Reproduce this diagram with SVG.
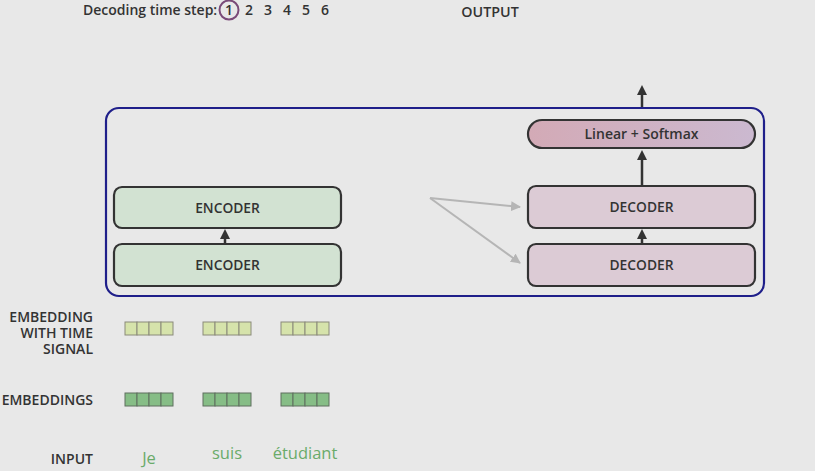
<svg xmlns="http://www.w3.org/2000/svg" width="815" height="471" viewBox="0 0 815 471">
<defs>
<style>
.t{font-family:"Open Sans","Liberation Sans",sans-serif;fill:#333;font-weight:600}
.lbl{font-size:14px;text-anchor:end}
.box{font-size:13.8px;text-anchor:middle}
.enc{fill:#d2e2d2;stroke:#333;stroke-width:2.2}
.dec{fill:#dccbd5;stroke:#333;stroke-width:2.2}
.ts{fill:#d6e3ab;stroke:#8a8a7a;stroke-width:1}
.em{fill:#86bd86;stroke:#5f6f5f;stroke-width:1}
.word{font-family:"Open Sans","Liberation Sans",sans-serif;font-size:16.5px;fill:#6aab6a;text-anchor:middle}
.dk{stroke:#333;stroke-width:2.5;fill:none}
.gr{stroke:#b5b5b5;stroke-width:2;fill:none}
</style>
<marker id="ah" viewBox="0 0 10 10" refX="5" refY="5" markerWidth="4" markerHeight="4" orient="auto"><path d="M0,0 L10,5 L0,10 z" fill="#333"/></marker>
<marker id="ag" viewBox="0 0 10 10" refX="9" refY="5" markerWidth="5" markerHeight="5" orient="auto"><path d="M0,0 L10,5 L0,10 z" fill="#b5b5b5"/></marker>
<linearGradient id="lg" x1="0" x2="1" y1="0" y2="0"><stop offset="0" stop-color="#d3aab6"/><stop offset="1" stop-color="#cbb9d0"/></linearGradient>
</defs>
<rect width="815" height="471" fill="#e8e8e8"/>

<g id="header">
<text class="t" x="83" y="15" font-size="14px">Decoding time step:</text>
<circle cx="229" cy="10" r="9.5" fill="none" stroke="#7a4a78" stroke-width="2"/>
<text class="t" x="229" y="15" font-size="14px" text-anchor="middle">1</text>
<text class="t" x="249" y="15" font-size="14px" text-anchor="middle">2</text>
<text class="t" x="268" y="15" font-size="14px" text-anchor="middle">3</text>
<text class="t" x="287" y="15" font-size="14px" text-anchor="middle">4</text>
<text class="t" x="306" y="15" font-size="14px" text-anchor="middle">5</text>
<text class="t" x="325" y="15" font-size="14px" text-anchor="middle">6</text>
<text class="t" x="490" y="17" font-size="14.3px" text-anchor="middle">OUTPUT</text>
</g>

<g id="container"><rect x="106" y="108" width="658" height="188" rx="13" fill="none" stroke="#1f1f8a" stroke-width="2.2"/></g>

<g id="encoder2"><rect class="enc" x="114" y="187" width="227" height="41" rx="8"/><text class="t box" x="227.5" y="212.5">ENCODER</text></g>
<g id="encoder1"><rect class="enc" x="114" y="244" width="227" height="42" rx="8"/><text class="t box" x="227.5" y="270">ENCODER</text></g>
<g id="decoder2"><rect class="dec" x="528" y="186" width="227" height="42" rx="8"/><text class="t box" x="641.5" y="212">DECODER</text></g>
<g id="decoder1"><rect class="dec" x="528" y="244" width="227" height="42" rx="8"/><text class="t box" x="641.5" y="270">DECODER</text></g>
<g id="linear"><rect x="528" y="120" width="227" height="28" rx="14" fill="url(#lg)" stroke="#333" stroke-width="2.2"/><text class="t" x="641.5" y="139" font-size="14px" text-anchor="middle">Linear + Softmax</text></g>

<g id="connectors">
<line class="dk" x1="225" y1="243" x2="225" y2="234" marker-end="url(#ah)"/>
<line class="dk" x1="642" y1="243" x2="642" y2="234" marker-end="url(#ah)"/>
<line class="dk" x1="642" y1="185" x2="642" y2="155" marker-end="url(#ah)"/>
<line class="dk" x1="642" y1="107" x2="642" y2="90" marker-end="url(#ah)"/>
<line class="gr" x1="430" y1="198" x2="520" y2="207" marker-end="url(#ag)"/>
<line class="gr" x1="430" y1="198" x2="520" y2="263" marker-end="url(#ag)"/>
</g>

<g id="labels">
<text class="t lbl" x="93" y="322"><tspan x="93" y="322">EMBEDDING</tspan><tspan x="93" y="338">WITH TIME</tspan><tspan x="93" y="354">SIGNAL</tspan></text>
<text class="t lbl" x="93" y="405">EMBEDDINGS</text>
<text class="t lbl" x="93" y="464">INPUT</text>
</g>

<g id="time-signal">
<rect class="ts" x="125" y="322" width="12" height="13"/><rect class="ts" x="137" y="322" width="12" height="13"/><rect class="ts" x="149" y="322" width="12" height="13"/><rect class="ts" x="161" y="322" width="12" height="13"/>
<rect class="ts" x="203" y="322" width="12" height="13"/><rect class="ts" x="215" y="322" width="12" height="13"/><rect class="ts" x="227" y="322" width="12" height="13"/><rect class="ts" x="239" y="322" width="12" height="13"/>
<rect class="ts" x="281" y="322" width="12" height="13"/><rect class="ts" x="293" y="322" width="12" height="13"/><rect class="ts" x="305" y="322" width="12" height="13"/><rect class="ts" x="317" y="322" width="12" height="13"/>
</g>
<g id="embeddings">
<rect class="em" x="125" y="393" width="12" height="13"/><rect class="em" x="137" y="393" width="12" height="13"/><rect class="em" x="149" y="393" width="12" height="13"/><rect class="em" x="161" y="393" width="12" height="13"/>
<rect class="em" x="203" y="393" width="12" height="13"/><rect class="em" x="215" y="393" width="12" height="13"/><rect class="em" x="227" y="393" width="12" height="13"/><rect class="em" x="239" y="393" width="12" height="13"/>
<rect class="em" x="281" y="393" width="12" height="13"/><rect class="em" x="293" y="393" width="12" height="13"/><rect class="em" x="305" y="393" width="12" height="13"/><rect class="em" x="317" y="393" width="12" height="13"/>
</g>

<g id="inputs">
<text class="word" x="149" y="464">Je</text>
<text class="word" x="227" y="459">suis</text>
<text class="word" x="305" y="459">étudiant</text>
</g>
</svg>
